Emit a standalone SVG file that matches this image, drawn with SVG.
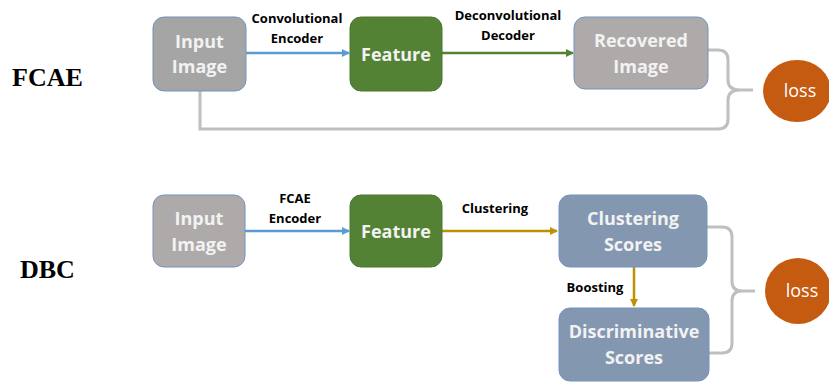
<svg xmlns="http://www.w3.org/2000/svg" width="829" height="383" viewBox="0 0 829 383">
<defs>
<style>
.box{stroke:#7393c0;stroke-width:1}
.bt{font-family:"Open Sans","Liberation Sans",sans-serif;font-weight:bold;font-size:18px;fill:#f2f2f2;text-anchor:middle}
.lab{font-family:"Open Sans","Liberation Sans",sans-serif;font-weight:bold;font-size:13px;fill:#000;text-anchor:middle}
.row{font-family:"Liberation Serif","Times New Roman",serif;font-weight:bold;font-size:26px;fill:#000}
.loss{font-family:"Open Sans","Liberation Sans",sans-serif;font-size:18px;fill:#fff;text-anchor:middle}
.br{fill:none;stroke:#bfbfbf;stroke-width:3}
</style>
<marker id="ab" markerWidth="8" markerHeight="8" refX="7" refY="4" orient="auto" markerUnits="userSpaceOnUse"><path d="M0,0 L8,4 L0,8 Z" fill="#5b9bd5"/></marker>
<marker id="ag" markerWidth="8" markerHeight="8" refX="7" refY="4" orient="auto" markerUnits="userSpaceOnUse"><path d="M0,0 L8,4 L0,8 Z" fill="#548235"/></marker>
<marker id="ay" markerWidth="8" markerHeight="8" refX="7" refY="4" orient="auto" markerUnits="userSpaceOnUse"><path d="M0,0 L8,4 L0,8 Z" fill="#bf9000"/></marker>
</defs>
<rect width="829" height="383" fill="#fff"/>
<text class="row" x="12" y="86">FCAE</text>
<text class="row" x="20" y="278">DBC</text>
<g id="connectors">
<line x1="246" y1="53" x2="349" y2="53" stroke="#5b9bd5" stroke-width="2.5" marker-end="url(#ab)"/>
<line x1="442" y1="53" x2="573" y2="53" stroke="#548235" stroke-width="2.5" marker-end="url(#ag)"/>
<path class="br" d="M200,91 V129 H718 Q728,129 728,119 V100 Q728,90 740,90 H753 M740,90 Q728,90 728,80 V60 Q728,50 718,50 H708"/>
<line x1="245" y1="231" x2="349" y2="231" stroke="#5b9bd5" stroke-width="2.5" marker-end="url(#ab)"/>
<line x1="442" y1="231" x2="557" y2="231" stroke="#bf9000" stroke-width="2.5" marker-end="url(#ay)"/>
<line x1="634" y1="267" x2="634" y2="306" stroke="#bf9000" stroke-width="2.5" marker-end="url(#ay)"/>
<path class="br" d="M707,227 H722 Q732,227 732,237 V281 Q732,291 742,291 H755 M742,291 Q732,291 732,301 V343 Q732,353 722,353 H709"/>
<text class="lab" x="297" y="23">Convolutional</text>
<text class="lab" x="297" y="43">Encoder</text>
<text class="lab" x="508" y="20">Deconvolutional</text>
<text class="lab" x="508" y="40">Decoder</text>
<text class="lab" x="295" y="203">FCAE</text>
<text class="lab" x="295" y="223">Encoder</text>
<text class="lab" x="495" y="213">Clustering</text>
<text class="lab" x="595" y="292">Boosting</text>
</g>
<g id="fcae-input">
<rect class="box" x="153" y="17" width="93" height="74" rx="11" fill="#a5a5a5"/>
<text class="bt" x="199.5" y="48">Input</text>
<text class="bt" x="199.5" y="73">Image</text>
</g>
<g id="fcae-feature">
<rect x="350" y="17" width="92" height="74" rx="11" fill="#548235" stroke="#4a7530"/>
<text class="bt" x="396" y="61" fill="#fff">Feature</text>
</g>
<g id="fcae-recovered">
<rect class="box" x="574" y="17" width="134" height="72" rx="11" fill="#aeaaaa"/>
<text class="bt" x="641" y="47">Recovered</text>
<text class="bt" x="641" y="73">Image</text>
</g>
<g id="fcae-loss">
<ellipse cx="797" cy="91" rx="34" ry="31" fill="#c55a11"/>
<text class="loss" x="800" y="97">loss</text>
</g>
<g id="dbc-input">
<rect class="box" x="153" y="195" width="92" height="72" rx="11" fill="#aeaaaa"/>
<text class="bt" x="199" y="225">Input</text>
<text class="bt" x="199" y="251">Image</text>
</g>
<g id="dbc-feature">
<rect x="350" y="195" width="92" height="72" rx="11" fill="#548235" stroke="#4a7530"/>
<text class="bt" x="396" y="238" fill="#fff">Feature</text>
</g>
<g id="dbc-clustering">
<rect class="box" x="559" y="195" width="148" height="72" rx="11" fill="#8497b0"/>
<text class="bt" x="633" y="225">Clustering</text>
<text class="bt" x="633" y="251">Scores</text>
</g>
<g id="dbc-discriminative">
<rect class="box" x="559" y="308" width="150" height="73" rx="11" fill="#8497b0"/>
<text class="bt" x="634" y="338">Discriminative</text>
<text class="bt" x="634" y="364">Scores</text>
</g>
<g id="dbc-loss">
<ellipse cx="798" cy="291" rx="33" ry="33" fill="#c55a11"/>
<text class="loss" x="802" y="297">loss</text>
</g>
</svg>
